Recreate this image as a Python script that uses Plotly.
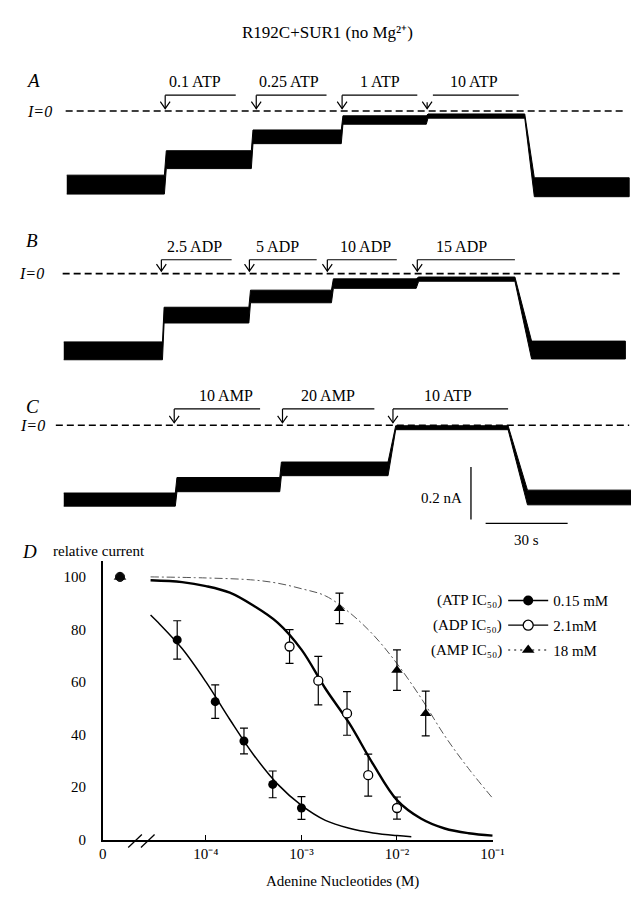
import math
import plotly.graph_objects as go

W, H = 639, 899
FONT = "Liberation Serif, Times New Roman, serif"

# ---------------- DATA ----------------
title_text = "R192C+SUR1 (no Mg²⁺)"

# Panel A: current trace levels (nA) per segment, times in s
A_seg_start = [1.1, 37.5, 69.2, 102.1, 133.2, 172.1]
A_seg_end = [36.8, 68.6, 101.5, 132.6, 168.6, 206.8]
A_level = [-0.280, -0.185, -0.098, -0.034, -0.019, -0.290]
A_noise = [0.036, 0.034, 0.026, 0.016, 0.008, 0.036]
A_labels = ["0.1 ATP", "0.25 ATP", "1 ATP", "10 ATP"]
A_arrow_t = [37.1, 70.4, 101.8, 132.9]
A_bar_start = [37.1, 70.4, 101.8, 135.0]
A_bar_end = [62.9, 96.1, 129.3, 166.4]
A_label_t = [47.9, 82.5, 115.7, 150.0]

# Panel B
B_seg_start = [0.0, 36.7, 68.3, 98.6, 129.8, 171.1]
B_seg_end = [36.1, 67.7, 97.9, 128.9, 165.0, 205.4]
B_level = [-0.294, -0.158, -0.087, -0.038, -0.021, -0.291]
B_noise = [0.034, 0.030, 0.024, 0.018, 0.008, 0.034]
B_labels = ["2.5 ADP", "5 ADP", "10 ADP", "15 ADP"]
B_arrow_t = [35.7, 67.9, 96.4, 129.3]
B_bar_start = [35.7, 67.9, 96.4, 129.3]
B_bar_end = [61.4, 92.5, 121.8, 165.0]
B_label_t = [47.9, 78.2, 110.4, 145.4]

# Panel C
C_seg_start = [0.0, 41.4, 79.6, 121.4, 169.6]
C_seg_end = [40.8, 79.0, 118.6, 162.5, 207.9]
C_level = [-0.283, -0.226, -0.166, -0.0094, -0.275]
C_noise = [0.025, 0.027, 0.026, 0.0075, 0.028]
C_labels = ["10 AMP", "20 AMP", "10 ATP"]
C_arrow_t = [40.4, 80.0, 120.4]
C_bar_start = [40.4, 80.0, 120.4]
C_bar_end = [71.8, 113.6, 162.5]
C_label_t = [59.3, 96.8, 140.7]

scale_current = 0.2   # nA
scale_time = 30       # s

# Panel D: relative current (%) vs nucleotide concentration (M)
control_rel = 100
atp_conc = [5e-5, 1.25e-4, 2.5e-4, 5e-4, 1e-3]
atp_rel = [76, 52.5, 37.5, 21, 12]
atp_sem = [7.3, 6.4, 4.9, 5.1, 4.3]
adp_conc = [7.5e-4, 1.5e-3, 3e-3, 5e-3, 1e-2]
adp_rel = [73.5, 60.5, 48, 24.5, 12]
adp_sem = [6.4, 9.2, 8.3, 8.0, 4.2]
amp_conc = [2.5e-3, 1e-2, 2e-2]
amp_rel = [88, 64.5, 48]
amp_sem = [5.8, 7.7, 8.5]

# fitted curves (log10 M, %)
fit_logc_atp = [-4.58, -4.5, -4.25, -4.0, -3.75, -3.5, -3.25, -3.0, -2.75, -2.5, -2.25, -2.0, -1.85]
fit_atp = [85.5, 82.6, 72.7, 60.0, 45.7, 32.2, 21.1, 13.0, 7.3, 4.3, 2.5, 1.5, 1.1]
fit_logc_adp = [-4.58, -4.25, -4.0, -3.75, -3.5, -3.25, -3.0, -2.75, -2.5, -2.25, -2.0, -1.75, -1.5, -1.25, -1.0]
fit_adp = [98.7, 98.0, 96.5, 94.0, 89.0, 82.6, 72.3, 57.5, 44.3, 28.7, 15.0, 8.0, 4.2, 2.4, 1.5]
fit_logc_amp = [-4.58, -4.0, -3.5, -3.25, -3.0, -2.75, -2.5, -2.25, -2.0, -1.75, -1.5, -1.25, -1.0]
fit_amp = [100.0, 99.6, 98.8, 97.6, 95.5, 92.8, 86.5, 78.0, 67.0, 54.0, 39.5, 27.0, 15.8]

legend_names = ["0.15 mM", "2.1mM", "18 mM"]
legend_prefix = ["(ATP IC₅₀)", "(ADP IC₅₀)", "(AMP IC₅₀)"]
x_tick_text = ["0", "10⁻⁴", "10⁻³", "10⁻²", "10⁻¹"]

# ---------------- LAYOUT GEOMETRY ----------------
NA_PER_PX = 0.2 / 53.0
S_PER_PX = 30.0 / 84.0
T0_PX = 53.0


def ydom(top_px, bot_px):
    return [1 - bot_px / H, 1 - top_px / H]


def yrange(zero_px, top_px, bot_px):
    return [(zero_px - bot_px) * NA_PER_PX, (zero_px - top_px) * NA_PER_PX]


def tfont(size, italic=False):
    d = dict(family=FONT, size=size, color="black")
    if italic:
        d["style"] = "italic"
    return d


TRANGE = [(0 - T0_PX) * S_PER_PX, (W - T0_PX) * S_PER_PX]

panels = [
    dict(ax="", zero=104, top=40, bot=205, seg_s=A_seg_start, seg_e=A_seg_end, lev=A_level, noise=A_noise,
         labels=A_labels, arrow=A_arrow_t, bs=A_bar_start, be=A_bar_end, lt=A_label_t,
         dash=[0.7, 205.0], bar_px=16, lab_px=30, letter="A", letter_px=73, izero_x=43),
    dict(ax="2", zero=268, top=215, bot=365, seg_s=B_seg_start, seg_e=B_seg_end, lev=B_level, noise=B_noise,
         labels=B_labels, arrow=B_arrow_t, bs=B_bar_start, be=B_bar_end, lt=B_label_t,
         dash=[-0.4, 203.6], bar_px=14, lab_px=27, letter="B", letter_px=235, izero_x=35),
    dict(ax="3", zero=421, top=372, bot=553, seg_s=C_seg_start, seg_e=C_seg_end, lev=C_level, noise=C_noise,
         labels=C_labels, arrow=C_arrow_t, bs=C_bar_start, be=C_bar_end, lt=C_label_t,
         dash=[-2.9, 206.8], bar_px=16.5, lab_px=30, letter="C", letter_px=402, izero_x=36),
]

fig = go.Figure()
annotations = []
layout_axes = {}

for p in panels:
    xa = "x" + p["ax"]
    ya = "y" + p["ax"]
    # current trace drawn as a filled noise band
    ux, uy, lx, ly = [], [], [], []
    for s, e, l, n in zip(p["seg_s"], p["seg_e"], p["lev"], p["noise"]):
        ux += [s, e]
        uy += [l + n, l + n]
        lx += [s, e]
        ly += [l - n, l - n]
    fig.add_trace(go.Scatter(x=ux + lx[::-1], y=uy + ly[::-1], xaxis=xa, yaxis=ya, mode="lines",
                             fill="toself", fillcolor="black", line=dict(color="black", width=1),
                             hoverinfo="skip", showlegend=False))
    # I=0 dashed line
    fig.add_trace(go.Scatter(x=p["dash"], y=[0, 0], xaxis=xa, yaxis=ya, mode="lines",
                             line=dict(color="black", width=1.6, dash="7px,4px"), showlegend=False,
                             hoverinfo="skip"))
    bar_y = p["bar_px"] * NA_PER_PX
    tip_y = 2.5 * NA_PER_PX
    head_h = 7 * NA_PER_PX
    head_w = 5 * S_PER_PX
    for lab, at, bs, be, lt in zip(p["labels"], p["arrow"], p["bs"], p["be"], p["lt"]):
        fig.add_trace(go.Scatter(x=[bs, be], y=[bar_y, bar_y], xaxis=xa, yaxis=ya, mode="lines",
                                 line=dict(color="black", width=1.2), showlegend=False, hoverinfo="skip"))
        stem_top = bar_y if abs(bs - at) < 0.01 else bar_y * 0.55
        fig.add_trace(go.Scatter(x=[at, at], y=[stem_top, tip_y], xaxis=xa, yaxis=ya, mode="lines",
                                 line=dict(color="black", width=1.2), showlegend=False, hoverinfo="skip"))
        fig.add_trace(go.Scatter(x=[at - head_w, at, at + head_w], y=[tip_y + head_h, tip_y, tip_y + head_h],
                                 xaxis=xa, yaxis=ya, mode="lines", line=dict(color="black", width=1.2),
                                 showlegend=False, hoverinfo="skip"))
        annotations.append(dict(x=lt, y=p["lab_px"] * NA_PER_PX, xref=xa, yref=ya, text=lab, showarrow=False,
                                font=tfont(16), xanchor="center", yanchor="middle"))
    annotations.append(dict(x=p["izero_x"] / W, y=1 - p["zero"] / H, xref="paper", yref="paper",
                            text="I=0", showarrow=False, xanchor="right", yanchor="middle",
                            font=tfont(16, italic=True)))
    annotations.append(dict(x=12 / W, y=1 - p["letter_px"] / H, xref="paper", yref="paper",
                            text=p["letter"], showarrow=False, xanchor="left", yanchor="middle",
                            font=tfont(19, italic=True)))
    xkey = "xaxis" + p["ax"]
    ykey = "yaxis" + p["ax"]
    layout_axes[xkey] = dict(domain=[0, 1], range=TRANGE, visible=False, fixedrange=True, anchor=ya)
    layout_axes[ykey] = dict(domain=ydom(p["top"], p["bot"]), range=yrange(p["zero"], p["top"], p["bot"]),
                             visible=False, fixedrange=True, anchor=xa)

# scale bars (panel C axes)
vb_t = (470 - T0_PX) * S_PER_PX
vb_y0 = (421 - 516) * NA_PER_PX
hb_t0 = (485 - T0_PX) * S_PER_PX
hb_y = (421 - 520) * NA_PER_PX
fig.add_trace(go.Scatter(x=[vb_t, vb_t], y=[vb_y0, vb_y0 + scale_current], xaxis="x3", yaxis="y3", mode="lines",
                         line=dict(color="black", width=1.3), showlegend=False, hoverinfo="skip"))
fig.add_trace(go.Scatter(x=[hb_t0, hb_t0 + scale_time], y=[hb_y, hb_y], xaxis="x3", yaxis="y3", mode="lines",
                         line=dict(color="black", width=1.3), showlegend=False, hoverinfo="skip"))
annotations.append(dict(x=vb_t - 7 * S_PER_PX, y=vb_y0 + 0.4 * scale_current, xref="x3", yref="y3",
                        text="%g nA" % scale_current, showarrow=False, xanchor="right", yanchor="middle",
                        font=tfont(15)))
annotations.append(dict(x=hb_t0 + scale_time / 2, y=hb_y - 17 * NA_PER_PX, xref="x3", yref="y3",
                        text="%g s" % scale_time, showarrow=False, xanchor="center", yanchor="middle",
                        font=tfont(15)))

# ---------------- PANEL D ----------------
XMIN, XMAX = -5.08, -0.99
ZERO_POS = -4.9
D_X_PX = [93, 493]
D_Y0_PX = 839
D_PX_PER_UNIT = 2.65
YMAX = 106

xd = dict(xaxis="x4", yaxis="y4")
fig.add_trace(go.Scatter(x=fit_logc_amp, y=fit_amp, mode="lines",
                         line=dict(color="#555", width=1, dash="8px,3px,2px,3px"),
                         line_shape="spline", showlegend=False, hoverinfo="skip", **xd))
fig.add_trace(go.Scatter(x=fit_logc_adp, y=fit_adp, mode="lines", line=dict(color="black", width=2.4),
                         line_shape="spline", showlegend=False, hoverinfo="skip", **xd))
fig.add_trace(go.Scatter(x=fit_logc_atp, y=fit_atp, mode="lines", line=dict(color="black", width=1.5),
                         line_shape="spline", showlegend=False, hoverinfo="skip", **xd))

err = dict(type="data", thickness=1.2, width=4, color="black")
fig.add_trace(go.Scatter(x=[math.log10(c) for c in atp_conc], y=atp_rel, mode="markers",
                         error_y=dict(array=atp_sem, **err),
                         marker=dict(symbol="circle", size=9, color="black"), showlegend=False, **xd))
fig.add_trace(go.Scatter(x=[math.log10(c) for c in adp_conc], y=adp_rel, mode="markers",
                         error_y=dict(array=adp_sem, **err),
                         marker=dict(symbol="circle", size=9, color="white", line=dict(color="black", width=1.3)),
                         showlegend=False, **xd))
fig.add_trace(go.Scatter(x=[math.log10(c) for c in amp_conc], y=amp_rel, mode="markers",
                         error_y=dict(array=amp_sem, **err),
                         marker=dict(symbol="triangle-up", size=10, color="black"), showlegend=False, **xd))
# control (no nucleotide) points, all three overlapping at 100 %
fig.add_trace(go.Scatter(x=[ZERO_POS, ZERO_POS, ZERO_POS], y=[control_rel] * 3, mode="markers", cliponaxis=False,
                         marker=dict(symbol=["circle", "triangle-up", "circle"], size=[9, 10, 9],
                                     color=["black", "black", "black"], line=dict(color="black", width=1)),
                         showlegend=False, **xd))

# legend entries
leg_styles = [
    dict(line=dict(color="black", width=1.5), marker=dict(symbol="circle", size=10, color="black")),
    dict(line=dict(color="black", width=1.2),
         marker=dict(symbol="circle", size=10, color="white", line=dict(color="black", width=1.3))),
    dict(line=dict(color="black", width=1.2, dash="2px,4px"),
         marker=dict(symbol="triangle-up", size=11, color="black")),
]
leg_ids = ["legend", "legend2", "legend3"]
leg_rows_px = [598, 623, 648]
for name, st, lid in zip(legend_names, leg_styles, leg_ids):
    fig.add_trace(go.Scatter(x=[None], y=[None], mode="lines+markers", name=name, legend=lid,
                             showlegend=True, **st, **xd))
for pre, ypx in zip(legend_prefix, leg_rows_px):
    annotations.append(dict(x=504 / W, y=1 - ypx / H, xref="paper", yref="paper", text=pre, showarrow=False,
                            xanchor="right", yanchor="middle", font=tfont(15)))


def to_px_x(v):
    return D_X_PX[0] + (v - XMIN) / (XMAX - XMIN) * (D_X_PX[1] - D_X_PX[0])


def to_px_y(v):
    return D_Y0_PX - v * D_PX_PER_UNIT


# axis break marks
shapes = []
for a, b in [(-4.814, -4.671), (-4.681, -4.538)]:
    shapes.append(dict(type="line", xref="paper", yref="paper",
                       x0=to_px_x(a) / W, x1=to_px_x(b) / W,
                       y0=1 - to_px_y(-3.0) / H, y1=1 - to_px_y(1.9) / H,
                       line=dict(color="black", width=1.3), layer="above"))

annotations.append(dict(x=18 / W, y=1 - 548 / H, xref="paper", yref="paper", text="D", showarrow=False,
                        xanchor="center", yanchor="middle", font=tfont(19, italic=True)))
annotations.append(dict(x=40 / W, y=1 - 548 / H, xref="paper", yref="paper", text="relative current",
                        showarrow=False, xanchor="left", yanchor="middle", font=tfont(15)))
annotations.append(dict(x=338 / W, y=1 - 881 / H, xref="paper", yref="paper", text="Adenine Nucleotides (M)",
                        showarrow=False, xanchor="center", yanchor="middle", font=tfont(15)))
annotations.append(dict(x=323 / W, y=1 - 25 / H, xref="paper", yref="paper", text=title_text,
                        showarrow=False, xanchor="center", yanchor="middle", font=tfont(17)))

layout_axes["xaxis4"] = dict(domain=[D_X_PX[0] / W, D_X_PX[1] / W], range=[XMIN, XMAX], anchor="y4",
                             showline=True, linecolor="black", linewidth=1.6, showgrid=False, zeroline=False,
                             tickmode="array", tickvals=[XMIN, -4, -3, -2, -1], ticktext=x_tick_text,
                             ticks="inside", ticklen=5, tickwidth=1.2, tickcolor="black",
                             tickfont=tfont(15), fixedrange=True)
layout_axes["yaxis4"] = dict(domain=ydom(to_px_y(YMAX), D_Y0_PX), range=[0, YMAX], anchor="x4",
                             showline=True, linecolor="black", linewidth=1.8, showgrid=False, zeroline=False,
                             tickmode="array", tickvals=[0, 20, 40, 60, 80, 100], ticks="",
                             ticklabelstandoff=12, tickfont=tfont(15), fixedrange=True)

leg_common = dict(xanchor="left", yanchor="middle", bgcolor="rgba(0,0,0,0)", borderwidth=0,
                  font=tfont(15), itemwidth=40)
fig.update_layout(
    width=W, height=H, autosize=False,
    margin=dict(l=0, r=0, t=0, b=0),
    paper_bgcolor="white", plot_bgcolor="rgba(0,0,0,0)",
    annotations=annotations, shapes=shapes,
    legend=dict(x=503 / W, y=1 - leg_rows_px[0] / H, **leg_common),
    legend2=dict(x=503 / W, y=1 - leg_rows_px[1] / H, **leg_common),
    legend3=dict(x=503 / W, y=1 - leg_rows_px[2] / H, **leg_common),
    **layout_axes,
)

fig.write_html("out.html")
